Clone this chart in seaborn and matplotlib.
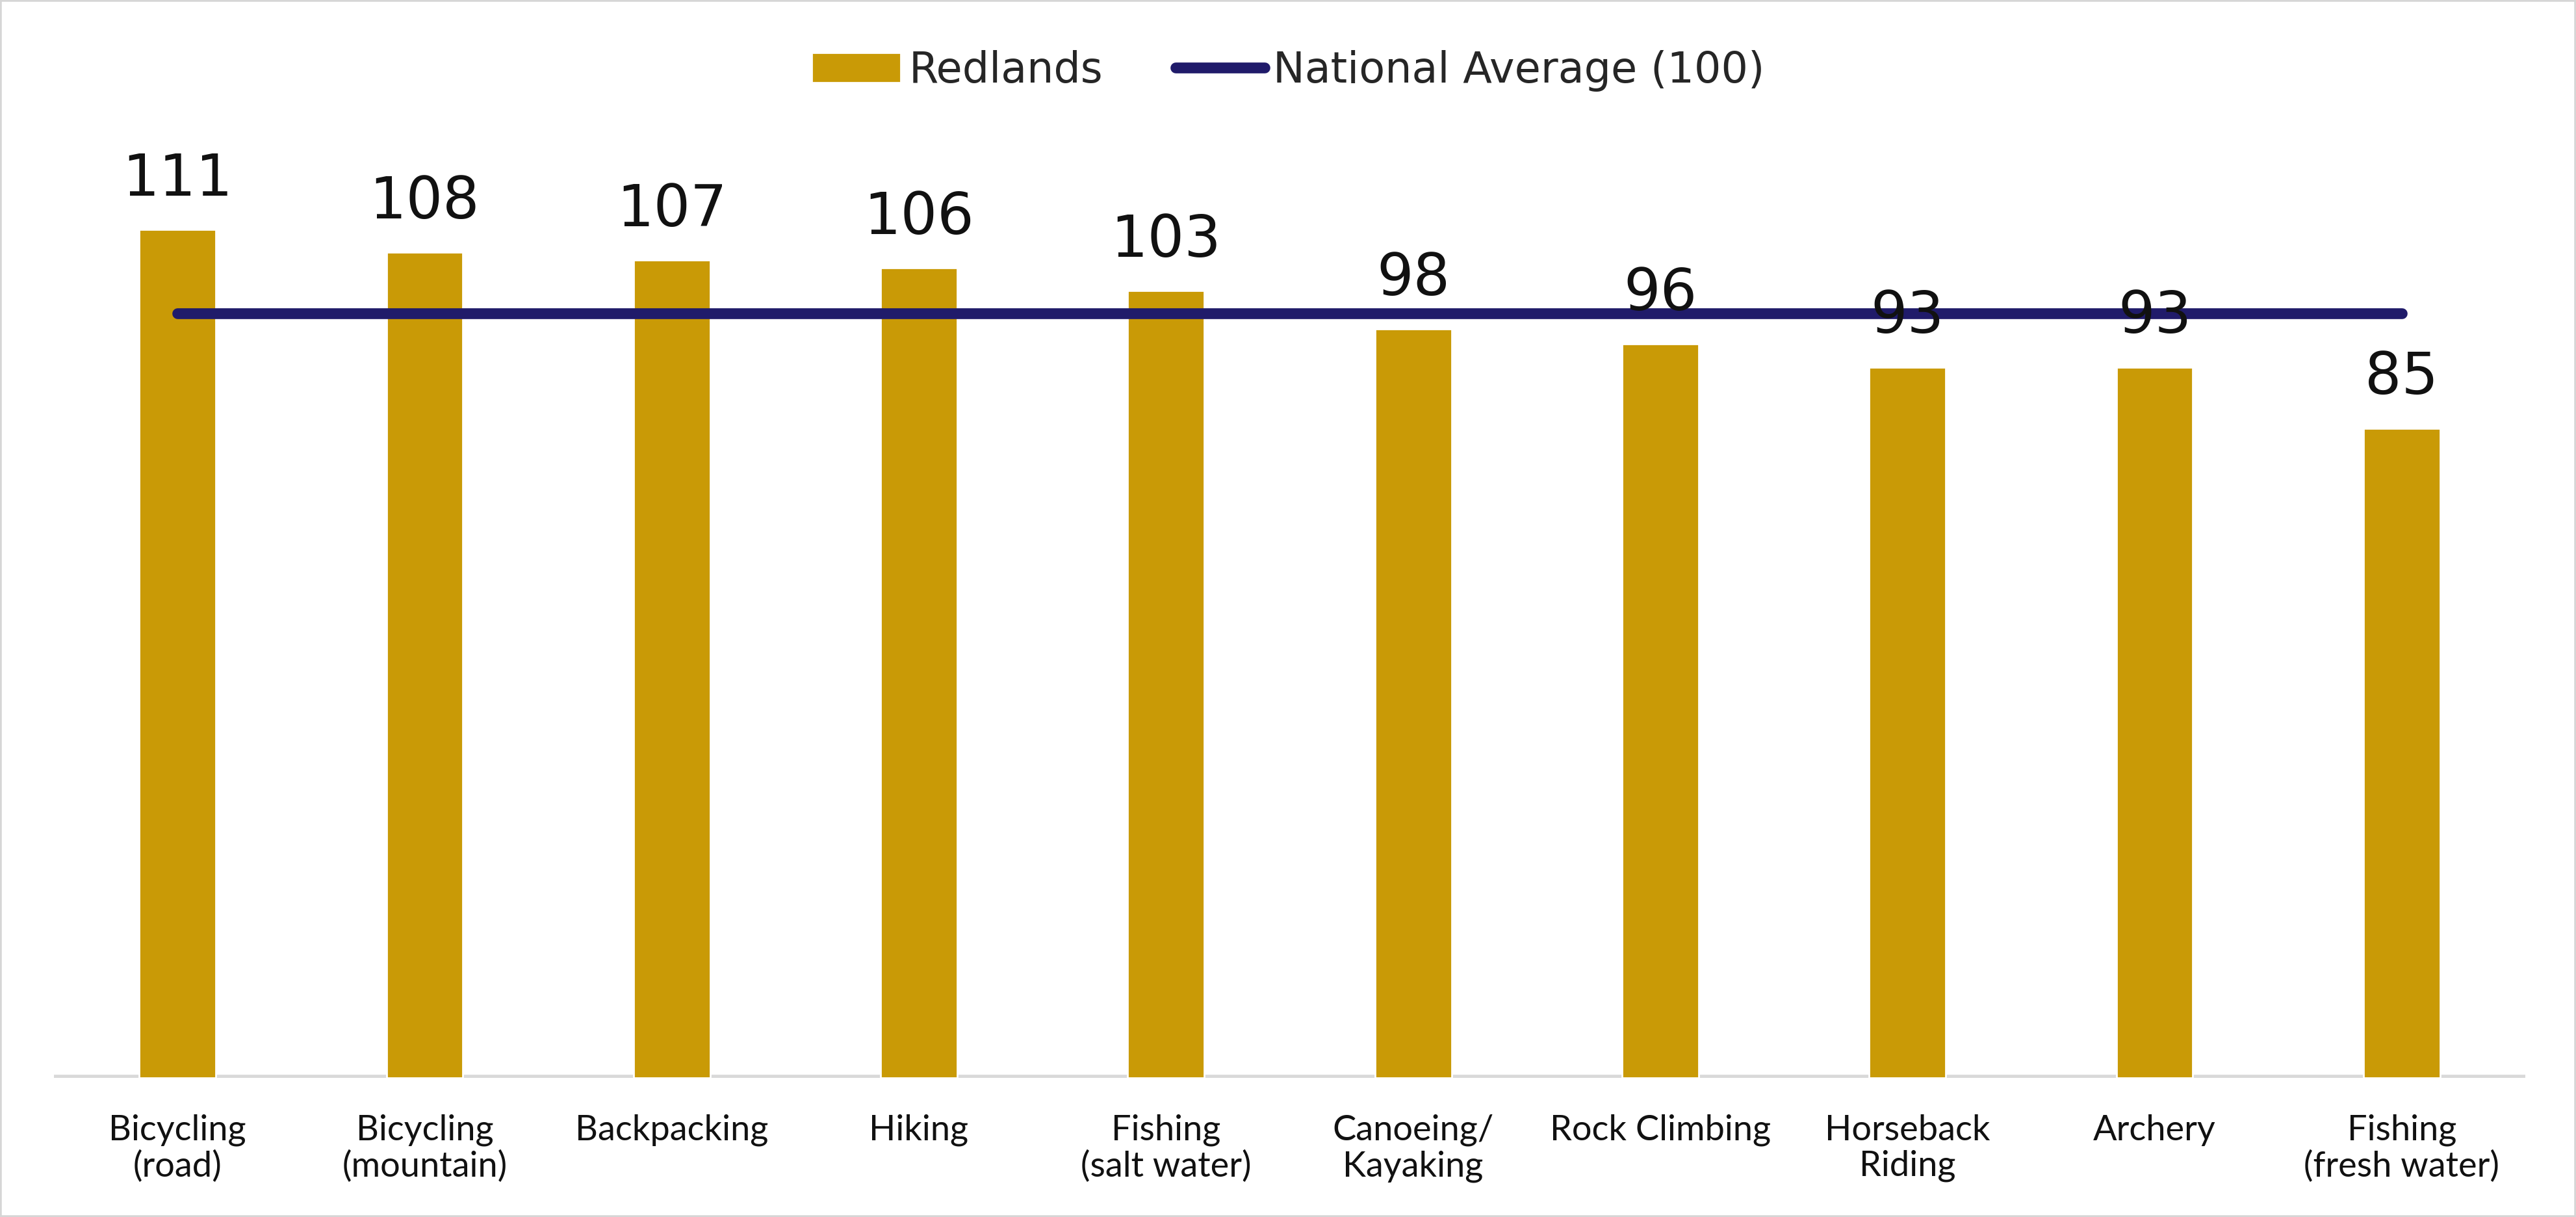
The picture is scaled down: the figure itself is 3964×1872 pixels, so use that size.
import numpy as np
import pandas as pd
import matplotlib
matplotlib.use('Agg')
import matplotlib.pyplot as plt
import seaborn as sns
from matplotlib.patches import Rectangle

activities = ['Bicycling\n(road)', 'Bicycling\n(mountain)', 'Backpacking', 'Hiking',
              'Fishing\n(salt water)', 'Canoeing/\nKayaking', 'Rock Climbing',
              'Horseback\nRiding', 'Archery', 'Fishing\n(fresh water)']
redlands = [111, 108, 107, 106, 103, 98, 96, 93, 93, 85]
national_avg = [100] * len(activities)

gold = '#C99A06'
navy = '#201B6A'

df = pd.DataFrame({'Activity': activities, 'Redlands': redlands, 'National': national_avg})

sns.set_style('white')
plt.rcParams['font.family'] = ['DejaVu Sans']

fig = plt.figure(figsize=(19.82, 9.36), dpi=200)
ax = fig.add_axes([83 / 3964, 0.1143, (3886 - 83) / 3964, 0.785])

sns.barplot(data=df, x='Activity', y='Redlands', color=gold, width=0.31,
            saturation=1, label='Redlands', ax=ax, zorder=2)
sns.lineplot(data=df, x='Activity', y='National', color=navy, linewidth=6,
             sort=False, label='National Average (100)', ax=ax, zorder=3)
for ln in ax.lines:
    ln.set_solid_capstyle('round')

# value labels above the bars
ax.bar_label(ax.containers[0], padding=12, fontsize=32, color='#111111')

ax.set_ylim(0, 125)
ax.set_xlim(-0.5, len(activities) - 0.5)
ax.axhline(0, color='#D9D9D9', lw=3.5, zorder=1)
sns.despine(ax=ax, left=True, bottom=True)
ax.set_yticks([])
ax.set_xlabel('')
ax.set_ylabel('')
ax.tick_params(axis='x', length=0, pad=20)
for t in ax.get_xticklabels():
    t.set_family('Lato')
    t.set_fontsize(19.5)
    t.set_color('#111111')
    t.set_linespacing(1.15)

handles, labels = ax.get_legend_handles_labels()
order = [labels.index('Redlands'), labels.index('National Average (100)')]
ax.legend([handles[i] for i in order], [labels[i] for i in order],
          loc='center', bbox_to_anchor=(0.5, 0.942), bbox_transform=fig.transFigure,
          ncol=2, frameon=False, fontsize=23.5, handlelength=2.1, handletextpad=0.2,
          columnspacing=1.7)

fig.patches.append(Rectangle((0, 0), 1, 1, transform=fig.transFigure, fill=False,
                             edgecolor='#D6D6D6', lw=2))

fig.savefig('out.png', dpi=200)
plt.close(fig)
